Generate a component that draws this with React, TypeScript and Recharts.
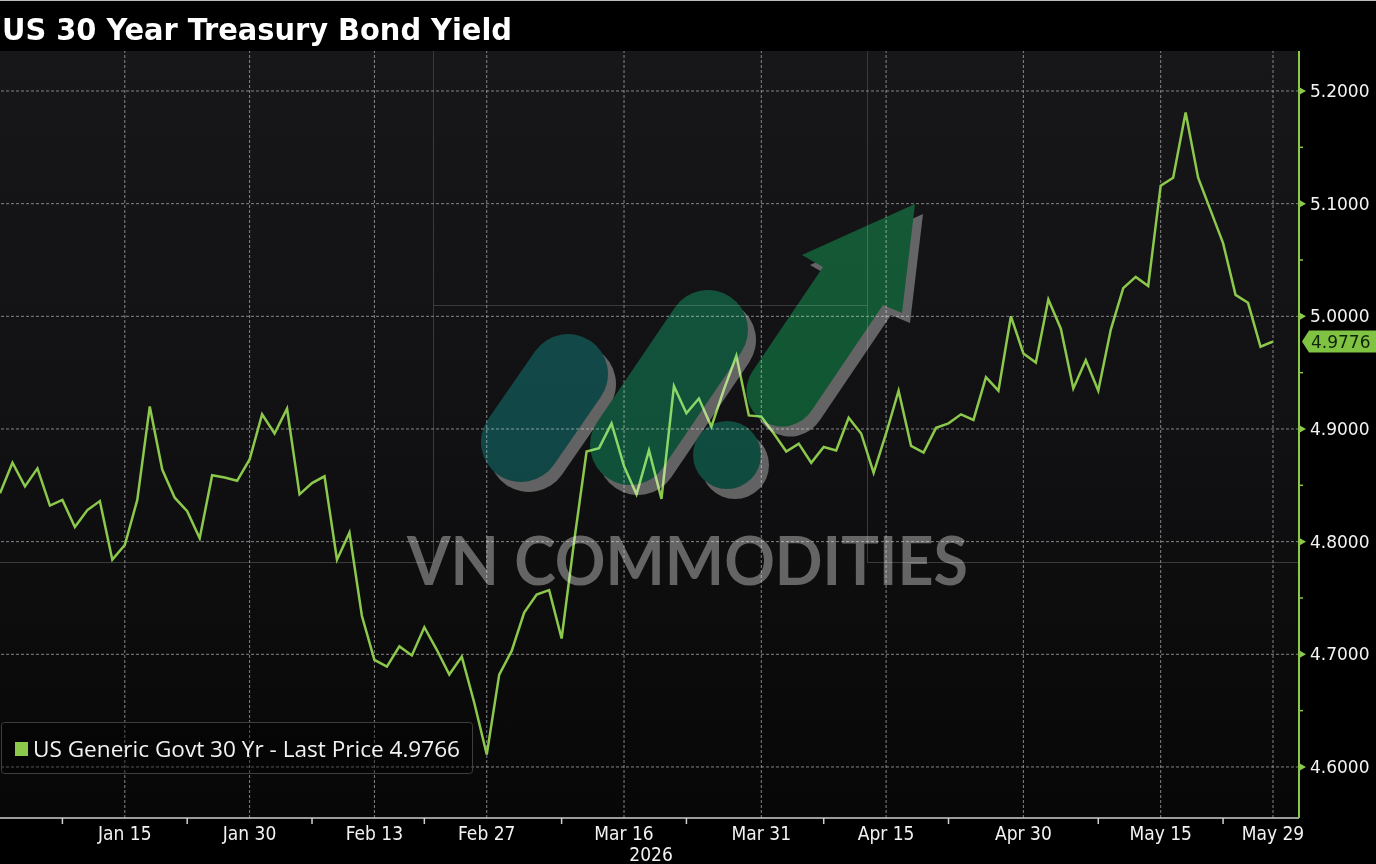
import React from 'react';
import { LineChart, Line, XAxis, YAxis, ReferenceLine } from 'recharts';

const dates = [
  'Dec 31', 'Jan 2', 'Jan 5', 'Jan 6', 'Jan 7', 'Jan 8', 'Jan 9', 'Jan 12', 'Jan 13', 'Jan 14',
  'Jan 15', 'Jan 16', 'Jan 20', 'Jan 21', 'Jan 22', 'Jan 23', 'Jan 26', 'Jan 27', 'Jan 28', 'Jan 29',
  'Jan 30', 'Feb 2', 'Feb 3', 'Feb 4', 'Feb 5', 'Feb 6', 'Feb 9', 'Feb 10', 'Feb 11', 'Feb 12',
  'Feb 13', 'Feb 17', 'Feb 18', 'Feb 19', 'Feb 20', 'Feb 23', 'Feb 24', 'Feb 25', 'Feb 26', 'Feb 27',
  'Mar 2', 'Mar 3', 'Mar 4', 'Mar 5', 'Mar 6', 'Mar 9', 'Mar 10', 'Mar 11', 'Mar 12', 'Mar 13',
  'Mar 16', 'Mar 17', 'Mar 18', 'Mar 19', 'Mar 20', 'Mar 23', 'Mar 24', 'Mar 25', 'Mar 26', 'Mar 27',
  'Mar 30', 'Mar 31', 'Apr 1', 'Apr 2', 'Apr 6', 'Apr 7', 'Apr 8', 'Apr 9', 'Apr 10', 'Apr 13',
  'Apr 14', 'Apr 15', 'Apr 16', 'Apr 17', 'Apr 20', 'Apr 21', 'Apr 22', 'Apr 23', 'Apr 24', 'Apr 27',
  'Apr 28', 'Apr 29', 'Apr 30', 'May 1', 'May 4', 'May 5', 'May 6', 'May 7', 'May 8', 'May 11',
  'May 12', 'May 13', 'May 14', 'May 15', 'May 18', 'May 19', 'May 20', 'May 21', 'May 22', 'May 26',
  'May 27', 'May 28', 'May 29',
];

const yields = [
  4.843, 4.870, 4.849, 4.865, 4.832, 4.837, 4.813, 4.828, 4.836, 4.784,
  4.797, 4.837, 4.920, 4.864, 4.839, 4.827, 4.803, 4.859, 4.857, 4.854,
  4.873, 4.913, 4.896, 4.918, 4.842, 4.852, 4.858, 4.784, 4.808, 4.734,
  4.695, 4.689, 4.707, 4.699, 4.724, 4.704, 4.682, 4.698, 4.657, 4.611,
  4.682, 4.703, 4.737, 4.753, 4.757, 4.714, 4.800, 4.880, 4.883, 4.905,
  4.867, 4.842, 4.881, 4.838, 4.938, 4.914, 4.927, 4.902, 4.935, 4.965,
  4.912, 4.911, 4.896, 4.880, 4.887, 4.870, 4.884, 4.881, 4.910, 4.896,
  4.861, 4.896, 4.934, 4.885, 4.879, 4.901, 4.905, 4.913, 4.908, 4.946,
  4.934, 5.000, 4.967, 4.959, 5.015, 4.989, 4.936, 4.961, 4.934, 4.988,
  5.025, 5.035, 5.027, 5.116, 5.123, 5.181, 5.123, 5.094, 5.065, 5.019,
  5.012, 4.973, 4.9776,
];

const majorDates = ['Jan 15', 'Jan 30', 'Feb 13', 'Feb 27', 'Mar 16', 'Mar 31', 'Apr 15', 'Apr 30', 'May 15', 'May 29'];
const minorDates = ['Jan 8', 'Jan 23', 'Feb 6', 'Feb 20', 'Mar 9', 'Mar 23', 'Apr 8', 'Apr 22', 'May 8', 'May 22'];
const yMajor = [4.6, 4.7, 4.8, 4.9, 5.0, 5.1, 5.2];
const yMinor = [4.65, 4.75, 4.85, 4.95, 5.05, 5.15];
const lastPrice = 4.9776;
const legendPrice = '4.9766';
const seriesName = 'US Generic Govt 30 Yr - Last Price';
const title = 'US 30 Year Treasury Bond Yield';
const yearLabel = '2026';

const data = dates.map((d, i) => ({ date: d, value: yields[i] }));

const GREEN = '#8cc84b';
const GRID = '#9a9a9a';

const XTick = (props: any) => {
  const { x, y, payload } = props;
  const label = payload.value;
  if (minorDates.includes(label)) {
    return <line x1={x} y1={y} x2={x} y2={y + 6} stroke="#d0d0d0" strokeWidth={1.5} />;
  }
  return (
    <g>
      <text x={x} y={y + 22} textAnchor="middle" fill="#f2f2f2" fontSize={19}
        fontFamily="'Liberation Sans Narrow', 'DejaVu Sans Condensed', sans-serif">{label}</text>
      {label === 'Mar 16' && (
        <text x={x + 27} y={y + 43} textAnchor="middle" fill="#f2f2f2" fontSize={19}
          fontFamily="'Liberation Sans Narrow', 'DejaVu Sans Condensed', sans-serif">{yearLabel}</text>
      )}
    </g>
  );
};

const YTick = (props: any) => {
  const { x, y, payload } = props;
  const v = payload.value;
  const isMajor = yMajor.some((m) => Math.abs(m - v) < 1e-6);
  if (!isMajor) {
    return <line x1={x} y1={y} x2={x + 4} y2={y} stroke={GREEN} strokeWidth={1.5} />;
  }
  return (
    <g>
      <polygon points={`${x},${y - 4} ${x + 7},${y} ${x},${y + 4}`} fill={GREEN} />
      <text x={x + 11} y={y + 6} fill="#f4f4f4" fontSize={17} fontFamily="'DejaVu Sans', sans-serif">
        {v.toFixed(4)}
      </text>
    </g>
  );
};

const PriceTag = (props: any) => {
  const { viewBox, price } = props;
  const r = viewBox.x + viewBox.width;
  const y = viewBox.y;
  return (
    <g>
      <polygon
        points={`${r + 3},${y} ${r + 10},${y - 11} ${r + 77},${y - 11} ${r + 77},${y + 11} ${r + 10},${y + 11}`}
        fill="#80c242"
      />
      <text x={r + 12} y={y + 6} fill="#0d2408" fontSize={17} fontFamily="'DejaVu Sans', sans-serif">
        {price.toFixed(4)}
      </text>
    </g>
  );
};

// logo overlay, blended so the line shows through it
const Watermark = () => (
  <svg width={1376} height={864} style={{ position: 'absolute', left: 0, top: 0, mixBlendMode: 'screen', pointerEvents: 'none' }}>
    <g fill="#585858" stroke="#585858">
      <line x1={529} y1={452} x2={576} y2={384} strokeWidth={80} strokeLinecap="round" />
      <line x1={638} y1={455} x2={716} y2={340} strokeWidth={80} strokeLinecap="round" />
      <circle cx={735} cy={465} r={34} stroke="none" />
      <path d="M 831 277 L 810 265 L 923 214 L 910 323 L 891 315 L 820 420 A 35.5 35.5 0 0 1 760 382 Z" stroke="none" />
    </g>
    <line x1={521} y1={442} x2={568} y2={374} stroke="#003a37" strokeWidth={80} strokeLinecap="round" />
    <line x1={630} y1={445} x2={708} y2={330} stroke="#00452a" strokeWidth={80} strokeLinecap="round" />
    <circle cx={727} cy={455} r={34} fill="#003f31" />
    <path d="M 823 267 L 802 255 L 915 204 L 902 313 L 883 305 L 812 410 A 35.5 35.5 0 0 1 752 372 Z" fill="#004a22" />
    <text x={407} y={585} fontSize={66} fontWeight={700} fill="#5c5c5c" fontFamily="Lato, sans-serif"
      textLength={561} lengthAdjust="spacingAndGlyphs">VN COMMODITIES</text>
  </svg>
);

export default function App() {
  return (
    <div style={{ position: 'absolute', left: 0, top: 0, width: 1376, height: 864, background: '#000', overflow: 'hidden' }}>
      {/* plot background */}
      <div style={{
        position: 'absolute', left: 0, top: 51, width: 1299, height: 767,
        background: 'linear-gradient(to bottom, #17171a 0%, #111113 50%, #070707 100%)',
      }} />
      <svg width={1376} height={864} style={{ position: 'absolute', left: 0, top: 0 }}>
        <line x1={0} y1={0.5} x2={1376} y2={0.5} stroke="#bdbdbd" />
        <text x={2} y={40} fontSize={31} fontWeight={700} fill="#fff" fontFamily="'DejaVu Sans Condensed', 'DejaVu Sans', sans-serif"
          textLength={510} lengthAdjust="spacingAndGlyphs">{title}</text>
        <g stroke="#3a3a3a" strokeWidth={1}>
          <line x1={433.5} y1={51} x2={433.5} y2={562} />
          <line x1={867.5} y1={51} x2={867.5} y2={562} />
          <line x1={0} y1={562.5} x2={433} y2={562.5} />
          <line x1={867} y1={562.5} x2={1299} y2={562.5} />
          <line x1={433} y1={305.5} x2={867} y2={305.5} />
        </g>
      </svg>
      <div style={{ position: 'absolute', left: 0, top: 51 }}>
        <LineChart width={1376} height={813} data={data} margin={{ top: 0, right: 0, bottom: 0, left: 0 }}>
          <XAxis
            dataKey="date"
            type="category"
            ticks={[...majorDates, ...minorDates]}
            interval={0}
            padding={{ left: 0, right: 26 }}
            height={46}
            tickSize={0}
            tickMargin={0}
            tickLine={false}
            axisLine={{ stroke: '#cfcfcf', strokeWidth: 1.5 }}
            tick={<XTick />}
          />
          <YAxis
            orientation="right"
            type="number"
            domain={[4.5547, 5.2355]}
            allowDataOverflow
            ticks={[...yMajor, ...yMinor].sort((a, b) => a - b)}
            interval={0}
            width={77}
            tickSize={0}
            tickMargin={0}
            tickLine={false}
            axisLine={{ stroke: GREEN, strokeWidth: 2 }}
            tick={<YTick />}
          />
          {yMajor.map((v) => (
            <ReferenceLine key={`h-${v}`} y={v} stroke={GRID} strokeDasharray="3 2" strokeOpacity={0.85} />
          ))}
          {majorDates.map((d) => (
            <ReferenceLine key={`v-${d}`} x={d} stroke={GRID} strokeDasharray="3 2" strokeOpacity={0.85} />
          ))}
          <Line
            type="linear"
            dataKey="value"
            stroke={GREEN}
            strokeWidth={2.5}
            dot={false}
            isAnimationActive={false}
          />
          <ReferenceLine y={lastPrice} stroke="none" label={<PriceTag price={lastPrice} />} />
        </LineChart>
      </div>
      <Watermark />
      <svg width={1376} height={864} style={{ position: 'absolute', left: 0, top: 0, pointerEvents: 'none' }}>
        <rect x={1.5} y={722.5} width={471} height={51} rx={3} fill="rgba(0,0,0,0.35)" stroke="#3e3e3e" />
        <rect x={15} y={742} width={13} height={14} fill={GREEN} />
        <text x={33} y={757} fontSize={21} fill="#f2f2f2" fontFamily="'Open Sans', sans-serif"
          textLength={427} lengthAdjust="spacingAndGlyphs">{`${seriesName} ${legendPrice}`}</text>
      </svg>
    </div>
  );
}
